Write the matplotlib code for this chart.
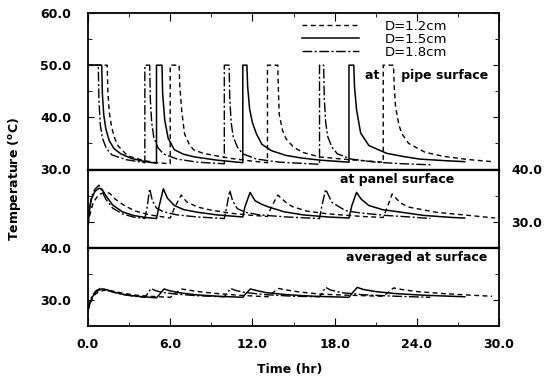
import matplotlib
matplotlib.use("Agg")
import matplotlib.pyplot as plt
from matplotlib.ticker import MultipleLocator, FixedLocator

# ---- pipe surface (top panel) ----
pipe_12_t = [0.0, 1.4, 1.45, 1.55, 1.7, 1.9, 2.2, 2.9, 4.1, 5.0, 6.0,
             6.0, 6.65, 6.7, 6.85, 7.05, 7.4, 7.7, 8.4, 9.4, 10.5, 12.0, 13.1,
             13.1, 13.85, 13.9, 13.96, 14.2, 14.45, 15.0, 15.65, 16.9, 19.0, 21.55,
             21.55, 22.3, 22.35, 22.45, 22.7, 22.9, 23.4, 24.6, 26.0, 27.8, 29.5]
pipe_12_T = [50.0, 50.0, 45.0, 41.0, 38.5, 36.3, 34.5, 32.6, 31.7, 31.3, 31.1,
             50.0, 50.0, 46.0, 41.0, 36.8, 34.8, 33.8, 33.1, 32.6, 32.1, 31.6, 31.3,
             50.0, 50.0, 45.0, 40.5, 37.5, 35.9, 34.3, 33.3, 32.4, 31.9, 31.4,
             50.0, 50.0, 46.0, 42.0, 38.5, 36.9, 35.0, 33.3, 32.5, 31.9, 31.5]

pipe_15_t = [0.0, 1.0, 1.05, 1.15, 1.3, 1.55, 1.9, 2.4, 3.2, 4.2, 5.0,
             5.0, 5.4, 5.45, 5.6, 5.85, 6.3, 7.0, 7.8, 9.4, 11.3,
             11.3, 11.6, 11.65, 11.8, 12.0, 12.3, 12.7, 13.4, 14.45, 15.6, 16.9, 19.05,
             19.05, 19.4, 19.45, 19.6, 19.9, 20.5, 21.8, 23.0, 24.2, 26.0, 27.5]
pipe_15_T = [50.0, 50.0, 44.5, 40.5, 37.8, 35.5, 34.0, 33.0, 32.1, 31.5, 31.2,
             50.0, 50.0, 44.5, 39.5, 36.0, 33.8, 32.9, 32.4, 31.8, 31.3,
             50.0, 50.0, 46.0, 41.5, 39.0, 36.8, 34.8, 33.6, 32.7, 32.2, 31.8, 31.4,
             50.0, 50.0, 46.0, 41.5, 37.0, 34.6, 33.1, 32.5, 32.0, 31.7, 31.5]

pipe_18_t = [0.0, 0.75, 0.8, 0.9, 1.05, 1.35, 1.75, 2.75, 4.15,
             4.15, 4.5, 4.55, 4.65, 4.8, 5.1, 5.5, 6.5, 8.0, 9.95,
             9.95, 10.3, 10.35, 10.45, 10.6, 10.9, 11.3, 12.3, 14.0, 16.9,
             16.9, 17.2, 17.25, 17.35, 17.5, 17.8, 18.2, 19.2, 21.0, 23.0, 25.0]
pipe_18_T = [50.0, 50.0, 43.0, 38.5, 36.0, 34.0, 32.8, 31.9, 31.3,
             50.0, 50.0, 43.5, 39.0, 36.2, 34.2, 33.0, 32.0, 31.4, 31.1,
             50.0, 50.0, 43.5, 39.0, 36.3, 34.3, 33.0, 32.0, 31.4, 31.0,
             50.0, 50.0, 43.5, 39.0, 36.3, 34.3, 33.0, 32.0, 31.4, 31.1, 30.9]

# ---- panel surface (middle panel) ----
panel_12_t = [0.0, 0.15, 0.4, 0.8, 1.3, 1.6, 2.0, 2.7, 3.5, 4.5, 6.0,
              6.3, 6.8, 7.2, 8.0, 9.0, 10.5, 12.0, 13.1,
              13.4, 13.85, 14.4, 14.9, 16.0, 17.5, 20.0, 21.55,
              21.85, 22.2, 22.8, 23.4, 25.4, 27.8, 29.7]
panel_12_T = [29.5, 31.5, 33.8, 35.2, 35.7, 35.4, 34.3, 33.0, 32.0, 31.3, 30.7,
              32.6, 35.1, 33.8, 32.8, 32.2, 31.6, 31.2, 31.0,
              32.9, 35.1, 33.8, 32.9, 32.0, 31.5, 31.0, 30.8,
              32.8, 35.3, 33.6, 32.8, 31.8, 31.2, 30.7]

panel_15_t = [0.0, 0.1, 0.25, 0.5, 0.8, 1.0, 1.3, 1.8, 2.5, 3.3, 4.2, 5.0,
              5.15, 5.5, 5.8, 6.3, 7.0, 8.0, 9.4, 11.3,
              11.45, 11.83, 12.2, 12.7, 13.2, 14.3, 15.7, 17.5, 19.05,
              19.25, 19.6, 19.95, 20.5, 21.5, 22.9, 24.5, 26.6, 27.5]
panel_15_T = [29.5, 32.0, 34.3, 35.8, 36.4, 36.3, 35.0, 33.2, 31.9, 31.2, 30.8, 30.6,
              32.5, 36.3, 34.5, 33.1, 32.3, 31.8, 31.3, 30.9,
              32.8, 35.6, 34.0, 33.3, 32.8, 31.9, 31.3, 30.9, 30.7,
              33.0, 35.6, 34.3, 33.1, 32.3, 31.8, 31.2, 30.8, 30.7]

panel_18_t = [0.0, 0.1, 0.25, 0.5, 0.8, 1.0, 1.3, 1.8, 2.5, 3.3, 4.15,
              4.3, 4.5, 4.7, 5.0, 5.5, 6.5, 8.0, 9.95,
              10.1, 10.35, 10.55, 10.9, 11.5, 12.5, 14.5, 16.9,
              17.05, 17.35, 17.8, 18.8, 19.8, 21.7, 23.5, 25.0]
panel_18_T = [29.5, 32.5, 34.8, 36.2, 37.0, 36.0, 34.3, 32.6, 31.5, 30.9, 30.6,
              32.5, 36.3, 34.0, 32.6, 31.9, 31.3, 30.9, 30.6,
              32.5, 36.0, 34.0, 32.5, 31.8, 31.3, 30.9, 30.6,
              32.8, 36.2, 33.7, 32.1, 31.7, 31.2, 30.9, 30.6]

# ---- averaged at surface (bottom panel) ----
avg_12_t = [0.0, 0.15, 0.4, 0.8, 1.3, 1.8, 2.5, 3.5, 4.5, 6.0,
            6.3, 6.8, 7.3, 8.0, 9.5, 11.0, 13.1,
            13.4, 13.9, 14.5, 15.5, 17.0, 19.0, 21.55,
            21.85, 22.3, 22.9, 24.0, 26.0, 28.0, 29.5]
avg_12_T = [28.0, 29.3, 30.8, 31.6, 31.9, 31.7, 31.3, 30.9, 30.7, 30.5,
            31.1, 32.1, 31.9, 31.6, 31.2, 30.9, 30.6,
            31.2, 32.2, 31.9, 31.5, 31.1, 30.9, 30.7,
            31.3, 32.3, 32.0, 31.6, 31.2, 30.9, 30.7]

avg_15_t = [0.0, 0.1, 0.3, 0.6, 1.0, 1.3, 1.9, 2.7, 3.6, 5.0,
            5.2, 5.55, 5.9, 6.6, 7.8, 9.5, 11.3,
            11.45, 11.85, 12.3, 13.0, 14.5, 16.5, 19.05,
            19.25, 19.65, 20.1, 21.0, 22.5, 24.5, 27.5]
avg_15_T = [28.0, 29.0, 30.5, 31.6, 32.1, 32.0, 31.5, 31.0, 30.7, 30.4,
            31.0, 32.1, 31.8, 31.4, 31.0, 30.7, 30.5,
            31.0, 32.1, 31.8, 31.4, 31.0, 30.7, 30.5,
            31.2, 32.4, 32.0, 31.6, 31.2, 30.9, 30.6]

avg_18_t = [0.0, 0.1, 0.3, 0.6, 0.9, 1.2, 1.8, 2.6, 3.4, 4.15,
            4.3, 4.6, 4.9, 5.5, 6.5, 8.0, 9.95,
            10.1, 10.4, 10.8, 11.5, 13.0, 15.0, 16.9,
            17.05, 17.35, 17.7, 18.5, 20.0, 22.5, 25.0]
avg_18_T = [28.0, 29.3, 30.8, 31.8, 32.2, 32.0, 31.5, 31.0, 30.7, 30.5,
            31.0, 32.2, 31.8, 31.4, 31.1, 30.8, 30.6,
            31.1, 32.2, 31.8, 31.4, 31.0, 30.7, 30.6,
            31.2, 32.4, 31.9, 31.4, 31.0, 30.7, 30.5]

labels = ["D=1.2cm", "D=1.5cm", "D=1.8cm"]
x_ticks = [0, 6, 12, 18, 24, 30]

styles = [dict(color="black", lw=1.0, dashes=(3.5, 2.5)),
          dict(color="black", lw=1.1),
          dict(color="black", lw=1.0, dashes=(7, 1.8, 1.5, 1.8))]

fig = plt.figure(figsize=(5.52, 3.77), dpi=100)
gs = fig.add_gridspec(3, 1, height_ratios=[2, 1, 1], hspace=0)
fig.subplots_adjust(left=88/552, right=499/552, top=1-13/377, bottom=1-326/377)
ax1 = fig.add_subplot(gs[0])
ax2 = fig.add_subplot(gs[1], sharex=ax1)
ax3 = fig.add_subplot(gs[2], sharex=ax1)

lines = []
for (t, T), st, lab in zip([(pipe_12_t, pipe_12_T), (pipe_15_t, pipe_15_T), (pipe_18_t, pipe_18_T)], styles, labels):
    ln, = ax1.plot(t, T, label=lab, **st)
    lines.append(ln)
for (t, T), st in zip([(panel_12_t, panel_12_T), (panel_15_t, panel_15_T), (panel_18_t, panel_18_T)], styles):
    ax2.plot(t, T, **st)
for (t, T), st in zip([(avg_12_t, avg_12_T), (avg_15_t, avg_15_T), (avg_18_t, avg_18_T)], styles):
    ax3.plot(t, T, **st)

tickfont = dict(fontsize=9, fontweight="bold")

ax1.set_xlim(0, 30)
ax1.set_ylim(30, 60)
ax1.set_yticks([30, 40, 50, 60])
ax1.set_yticklabels(["30.0", "40.0", "50.0", "60.0"], **tickfont)
ax1.yaxis.set_minor_locator(FixedLocator([35, 45, 55]))
ax1.tick_params(axis="y", which="both", direction="in", left=True, right=True, pad=12)
ax1.tick_params(axis="y", which="major", length=4)
ax1.tick_params(axis="y", which="minor", length=3)
ax1.tick_params(axis="x", which="both", direction="in", top=True, bottom=False, labelbottom=False)
ax1.tick_params(axis="x", which="major", length=6)
ax1.tick_params(axis="x", which="minor", length=3)

ax2.set_ylim(25, 40)
ax2.set_yticks([30, 40])
ax2.yaxis.set_minor_locator(FixedLocator([35]))
ax2.tick_params(axis="y", which="both", direction="in", left=True, right=True,
                labelleft=False, labelright=True, pad=9)
ax2.set_yticklabels(["30.0", "40.0"], **tickfont)
ax2.tick_params(axis="y", which="major", length=4)
ax2.tick_params(axis="y", which="minor", length=3)
ax2.tick_params(axis="x", which="both", bottom=False, top=False, labelbottom=False)

ax3.set_ylim(25, 40)
ax3.set_yticks([30, 40])
ax3.set_yticklabels(["30.0", "40.0"], **tickfont)
ax3.yaxis.set_minor_locator(FixedLocator([35]))
ax3.tick_params(axis="y", which="both", direction="in", left=True, right=True, pad=12)
ax3.tick_params(axis="y", which="major", length=4)
ax3.tick_params(axis="y", which="minor", length=3)
ax3.set_xticks(x_ticks)
ax3.set_xticklabels([f"{v:.1f}" for v in x_ticks], **tickfont)
ax3.xaxis.set_minor_locator(MultipleLocator(3))
ax3.tick_params(axis="x", which="both", direction="in", top=False, bottom=True, pad=9)
ax3.tick_params(axis="x", which="major", length=6)
ax3.tick_params(axis="x", which="minor", length=3)

for ax in (ax1, ax2, ax3):
    for sp in ax.spines.values():
        sp.set_linewidth(1.3)
ax1.spines["bottom"].set_linewidth(1.6)
ax2.spines["top"].set_linewidth(1.6)
ax2.spines["bottom"].set_linewidth(1.6)
ax3.spines["top"].set_linewidth(1.6)

ax1.legend(handles=lines, frameon=False, loc="upper left",
           bbox_to_anchor=(302/552, 1-20/377), bbox_transform=fig.transFigure,
           handlelength=4.3, handletextpad=2.0, labelspacing=0.0,
           borderpad=0, borderaxespad=0, fontsize=9.5)

txt = dict(fontsize=9, fontweight="bold", va="center")
fig.text(488/552, 1-75/377, "at     pipe surface", ha="right", **txt)
fig.text(397/552, 1-180/377, "at panel surface", ha="center", **txt)
fig.text(487/552, 1-257/377, "averaged at surface", ha="right", **txt)

fig.text(15/552, 1-179/377, r"Temperature ($^{\mathbf{o}}$C)", rotation=90,
         ha="center", va="center", fontsize=9, fontweight="bold")
fig.text(290/552, 1-369/377, "Time (hr)", ha="center", va="center",
         fontsize=9, fontweight="bold")

fig.savefig("out.png", dpi=100)
